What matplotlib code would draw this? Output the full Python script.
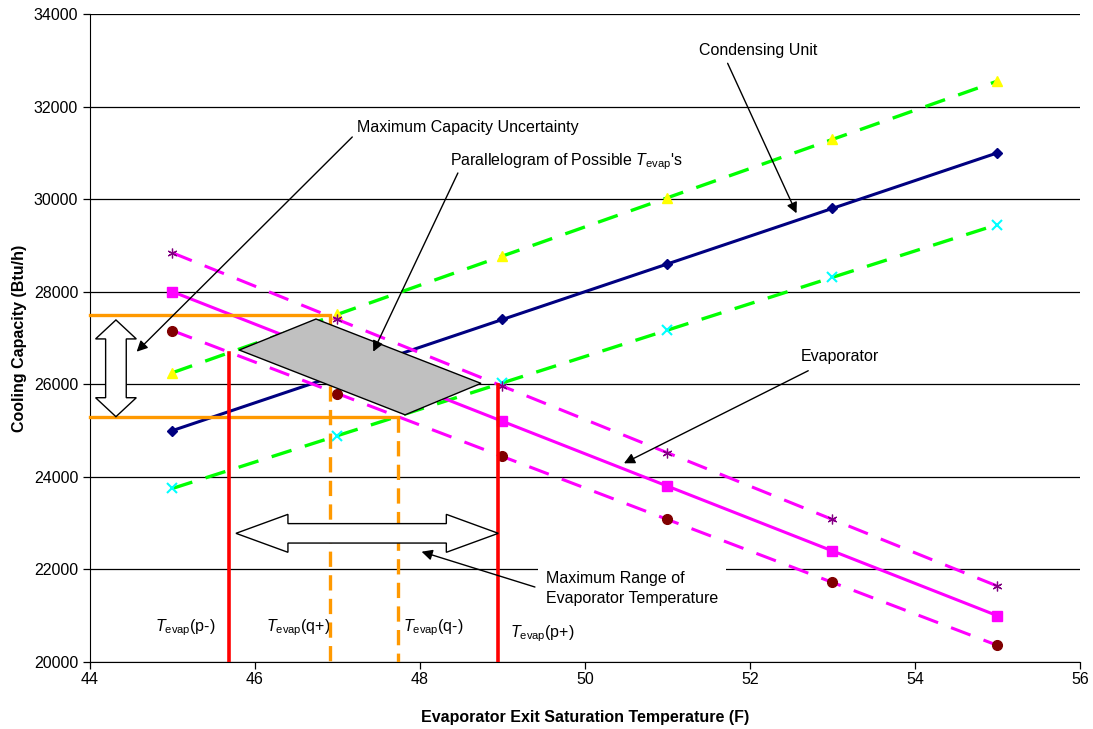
import numpy as np
import matplotlib
matplotlib.use("Agg")
import matplotlib.pyplot as plt
from matplotlib.patches import Polygon

plt.rcParams['font.family'] = ['Liberation Sans', 'DejaVu Sans']
plt.rcParams['mathtext.fontset'] = 'custom'
plt.rcParams['mathtext.rm'] = 'Liberation Sans'
plt.rcParams['mathtext.it'] = 'Liberation Sans:italic'
plt.rcParams['lines.scale_dashes'] = False

# ---------------------------------------------------------#
# Data                                 #
# ---------------------------------------------------------#
temps = [45, 47, 49, 51, 53, 55]
cond_unit  = [25000, 26200, 27400, 28600, 29800, 31000]
cond_upper = [26250, 27510, 28770, 30030, 31290, 32550]
cond_lower = [23750, 24890, 26030, 27170, 28310, 29450]
evap       = [28000, 26600, 25200, 23800, 22400, 21000]
evap_upper = [28840, 27400, 25960, 24520, 23080, 21640]
evap_lower = [27160, 25800, 24440, 23080, 21720, 20360]

# parallelogram of possible T_evap's (corners)
para_x = [45.81, 46.74, 48.74, 47.82]
para_y = [26740, 27410, 26020, 25340]

# capacity bounds (orange) and temperature bounds
cap_hi, cap_hi_t = 27500, 46.91
cap_lo, cap_lo_t = 25300, 47.73
t_p_minus, t_p_minus_top = 45.69, 26680
t_p_plus, t_p_plus_top = 48.95, 25990

fig = plt.figure(figsize=(10.93, 7.29), dpi=100)
ax = fig.add_axes([0.0823, 0.0919, 0.9057, 0.8889])

ax.set_xlim(44, 56)
ax.set_ylim(20000, 34000)
ax.set_xticks(np.arange(44, 57, 2))
ax.set_yticks(np.arange(20000, 34001, 2000))
ax.yaxis.grid(True, color='black', lw=0.9)
ax.set_axisbelow(True)
for s in ['top', 'right']:
    ax.spines[s].set_visible(False)
ax.tick_params(labelsize=11.5, direction='out', length=5, width=0.9)
ax.tick_params(axis='x', pad=2)
ax.set_xlabel('Evaporator Exit Saturation Temperature (F)', fontsize=11.5, fontweight='bold', labelpad=17)
ax.set_ylabel('Cooling Capacity (Btu/h)', fontsize=11.5, fontweight='bold', labelpad=5)

# data lines
ax.plot(temps, cond_upper, color='#00ff00', lw=2.4, dashes=(15, 10), marker='^',
        mfc='yellow', mec='yellow', ms=7, zorder=3)
ax.plot(temps, cond_lower, color='#00ff00', lw=2.4, dashes=(15, 10), marker='x',
        mec='cyan', mew=1.5, ms=7, zorder=3)
ax.plot(temps, cond_unit, color='#000080', lw=2.2, marker='D', ms=5,
        mfc='#000080', mec='#000080', zorder=3)
ax.plot(temps, evap_upper, color='magenta', lw=2.2, dashes=(15, 10), marker=(6, 2, 0),
        mec='#800080', mew=0.9, ms=7, zorder=3)
ax.plot(temps, evap, color='magenta', lw=2.2, marker='s', ms=7,
        mfc='magenta', mec='magenta', zorder=3)
ax.plot(temps, evap_lower, color='magenta', lw=2.2, dashes=(15, 10), marker='o',
        mfc='#800000', mec='#800000', ms=7, zorder=3)

# capacity bounds
ax.plot([44, cap_hi_t], [cap_hi, cap_hi], color='#ff9900', lw=2.4, zorder=4, clip_on=False)
ax.plot([cap_hi_t, cap_hi_t], [cap_hi, 20000], color='#ff9900', lw=2.4, dashes=(11, 6), zorder=4)
ax.plot([44, cap_lo_t], [cap_lo, cap_lo], color='#ff9900', lw=2.4, zorder=4, clip_on=False)
ax.plot([cap_lo_t, cap_lo_t], [cap_lo, 20000], color='#ff9900', lw=2.4, dashes=(11, 6), zorder=4)

# temperature bounds
ax.plot([t_p_minus, t_p_minus], [20000, t_p_minus_top], color='red', lw=2.6, zorder=4)
ax.plot([t_p_plus, t_p_plus], [20000, t_p_plus_top], color='red', lw=2.6, zorder=4)

ax.add_patch(Polygon(list(zip(para_x, para_y)), closed=True, facecolor='#c0c0c0',
                     edgecolor='black', lw=1.0, zorder=5))

# hollow double arrows
def double_arrow(c, a0, a1, half_head, half_shaft, head):
    # points along the axis a, offsets across it (c)
    return [(a0, c), (a0 + head, c + half_head), (a0 + head, c + half_shaft),
            (a1 - head, c + half_shaft), (a1 - head, c + half_head), (a1, c),
            (a1 - head, c - half_head), (a1 - head, c - half_shaft),
            (a0 + head, c - half_shaft), (a0 + head, c - half_head)]

ax.add_patch(Polygon(double_arrow(22780, 45.77, 48.95, 410, 210, 0.63),
                     closed=True, facecolor='white', edgecolor='black', lw=1.0, zorder=6))
vert = double_arrow(44.315, 25300, 27390, 0.247, 0.125, 410)
ax.add_patch(Polygon([(b, a) for a, b in vert],
                     closed=True, facecolor='white', edgecolor='black', lw=1.0, zorder=6))

# annotations
arrow = dict(arrowstyle='-|>', color='black', lw=1.0, mutation_scale=16, shrinkA=0, shrinkB=0)
fs = 11.5
ax.annotate('', xy=(52.565, 29694), xytext=(51.73, 32935), arrowprops=arrow, zorder=7)
ax.text(52.10, 33222, 'Condensing Unit', fontsize=fs, ha='center', va='center')

ax.annotate('', xy=(44.566, 26704), xytext=(47.18, 31343), arrowprops=arrow, zorder=7)
ax.text(48.58, 31537, 'Maximum Capacity Uncertainty', fontsize=fs, ha='center', va='center')

ax.annotate('', xy=(47.434, 26704), xytext=(48.46, 30565), arrowprops=arrow, zorder=7)
ax.text(49.77, 30803, r"Parallelogram of Possible $T_{\mathrm{evap}}$'s", fontsize=fs,
        ha='center', va='center')

ax.annotate('', xy=(50.473, 24293), xytext=(52.707, 26293), arrowprops=arrow, zorder=7)
ax.text(53.09, 26600, 'Evaporator', fontsize=fs, ha='center', va='center')

ax.annotate('', xy=(48.02, 22383), xytext=(49.394, 21620), arrowprops=arrow, zorder=7)
ax.text(49.527, 21590, 'Maximum Range of\nEvaporator Temperature', fontsize=fs, ha='left',
        va='center', linespacing=1.45,
        bbox=dict(facecolor='white', edgecolor='none', pad=6), zorder=6)

bottom_labels = ['(p-)', '(q+)', '(q-)', '(p+)']
bottom_x = [45.16, 46.52, 48.16, 49.48]
bottom_y = [20734, 20734, 20751, 20605]
for lab, bx, by in zip(bottom_labels, bottom_x, bottom_y):
    ax.text(bx, by, r'$T_{\mathrm{evap}}$' + lab, fontsize=fs, ha='center', va='center')

fig.savefig('out.png', dpi=100)
